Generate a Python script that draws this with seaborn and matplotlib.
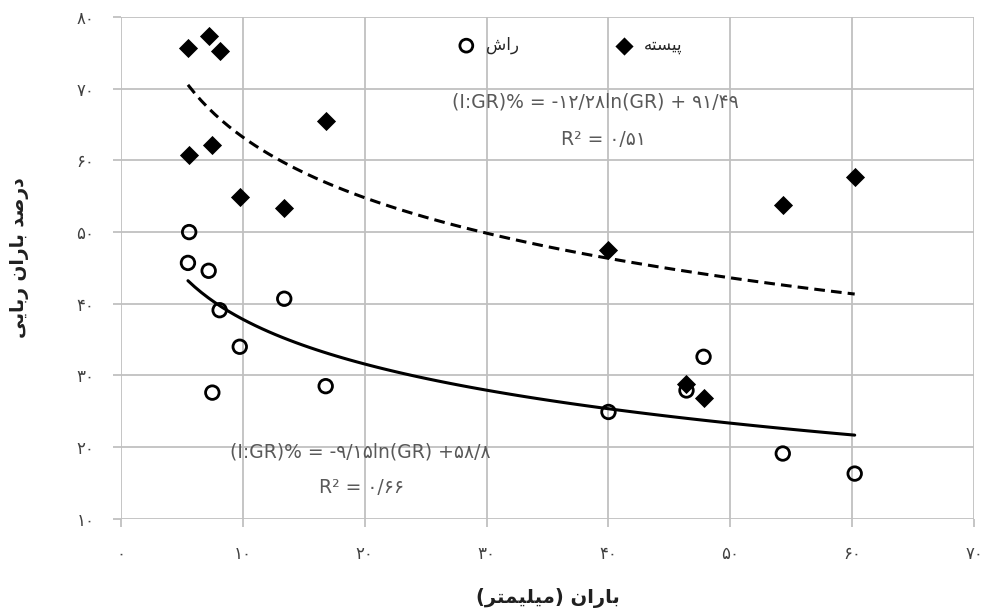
import matplotlib
matplotlib.use("Agg")
import matplotlib.pyplot as plt
import numpy as np
import pandas as pd
import seaborn as sns

# rainfall events (mm) shared by both species
rain = [5.5, 5.6, 7.2, 7.5, 8.1, 9.75, 13.4, 16.8, 40.0, 46.4, 47.8, 54.3, 60.2]
# interception percent
pisteh = [75.7, 60.8, 77.4, 62.2, 75.3, 54.9, 53.4, 65.5, 47.5, 28.8, 26.9, 53.8, 57.7]
rash = [45.7, 50.0, 44.6, 27.6, 39.1, 34.0, 40.7, 28.5, 24.9, 27.9, 32.6, 19.1, 16.3]

x_ticks = [0, 10, 20, 30, 40, 50, 60, 70]
x_tick_labels = ["۰", "۱۰", "۲۰", "۳۰", "۴۰", "۵۰", "۶۰", "۷۰"]
y_ticks = [10, 20, 30, 40, 50, 60, 70, 80]
y_tick_labels = ["۱۰", "۲۰", "۳۰", "۴۰", "۵۰", "۶۰", "۷۰", "۸۰"]

# Persian strings already shaped (presentation forms, visual order)
name_rash = "\uFEB5\uFE8D\uFEAD"                      # راش
name_pisteh = "\uFEEA\uFE98\uFEB4\uFBFF\uFB58"       # پیسته
x_label = "(\uFEAE\uFE98\uFEE4\uFBFF\uFEE0\uFBFF\uFEE3) \uFEE5\uFE8D\uFEAD\uFE8E\uFE91"   # باران (میلیمتر)
y_label = ("\uFBFD\uFBFE\uFE8E\uFE91\uFEAD \uFEE5\uFE8D\uFEAD\uFE8E\uFE91 "
           "\uFEAA\uFEBB\uFEAD\uFEA9")                # درصد باران ربایی

eq_pisteh = "(I:GR)% = -۱۲/۲۸ln(GR) + ۹۱/۴۹"
r2_pisteh = "R² = ۰/۵۱"
eq_rash = "(I:GR)% = -۹/۱۵ln(GR) +۵۸/۸"
r2_rash = "R² = ۰/۶۶"

df = pd.DataFrame({"rain": rain, "pisteh": pisteh, "rash": rash})

sns.set_theme(style="white")
plt.rcParams["font.family"] = ["DejaVu Sans"]

fig = plt.figure(figsize=(9.83, 6.11), dpi=100)
ax = fig.add_axes([0.123, 0.151, 0.868, 0.821])

grid_c = "#c0c0c0"
ax.grid(True, color=grid_c, lw=1.3)
ax.set_axisbelow(True)
for s in ax.spines.values():
    s.set_visible(False)

# trend lines (log fit)
sns.regplot(data=df, x="rain", y="pisteh", logx=True, ci=None, scatter=False, ax=ax,
            line_kws={"color": "black", "lw": 2.2, "ls": (0, (3.5, 2))})
sns.regplot(data=df, x="rain", y="rash", logx=True, ci=None, scatter=False, ax=ax,
            line_kws={"color": "black", "lw": 2.2})

sns.scatterplot(data=df, x="rain", y="rash", ax=ax, marker="o", s=95,
                facecolor="none", edgecolor="black", linewidth=2.0,
                label=name_rash, zorder=3)
sns.scatterplot(data=df, x="rain", y="pisteh", ax=ax, marker="D", s=95,
                color="black", edgecolor="black", linewidth=0,
                label=name_pisteh, zorder=4)

ax.set_xlim(0, 70)
ax.set_ylim(10, 80)
ax.set_xticks(x_ticks)
ax.set_xticklabels(x_tick_labels)
ax.set_yticks(y_ticks)
ax.set_yticklabels(y_tick_labels)
ax.tick_params(axis="both", length=6, width=1.3, color=grid_c,
               labelcolor="#404040", labelsize=12)
ax.tick_params(axis="x", pad=13, bottom=True)
ax.tick_params(axis="y", pad=13, left=True)

ax.set_xlabel("")
ax.set_ylabel("")
fig.text(0.557, 0.022, x_label, ha="center", va="center", fontsize=14,
         fontweight="bold", color="#202020")
fig.text(0.02, 0.578, y_label, ha="center", va="center", rotation=90,
         fontsize=13.5, fontweight="bold", color="#202020")

eq_c = "#595959"
ax.text(38.9, 68.2, eq_pisteh, ha="center", va="center", fontsize=13.5, color=eq_c)
ax.text(39.6, 62.9, r2_pisteh, ha="center", va="center", fontsize=13.5, color=eq_c)
ax.text(19.6, 19.3, eq_rash, ha="center", va="center", fontsize=13.5, color=eq_c)
ax.text(19.7, 14.3, r2_rash, ha="center", va="center", fontsize=13.5, color=eq_c)

ax.legend(loc="center", bbox_to_anchor=(0.522, 0.944), ncol=2, frameon=False,
          fontsize=12, handletextpad=0.2, columnspacing=5.3, markerscale=0.95)

fig.savefig("out.png", dpi=100)
